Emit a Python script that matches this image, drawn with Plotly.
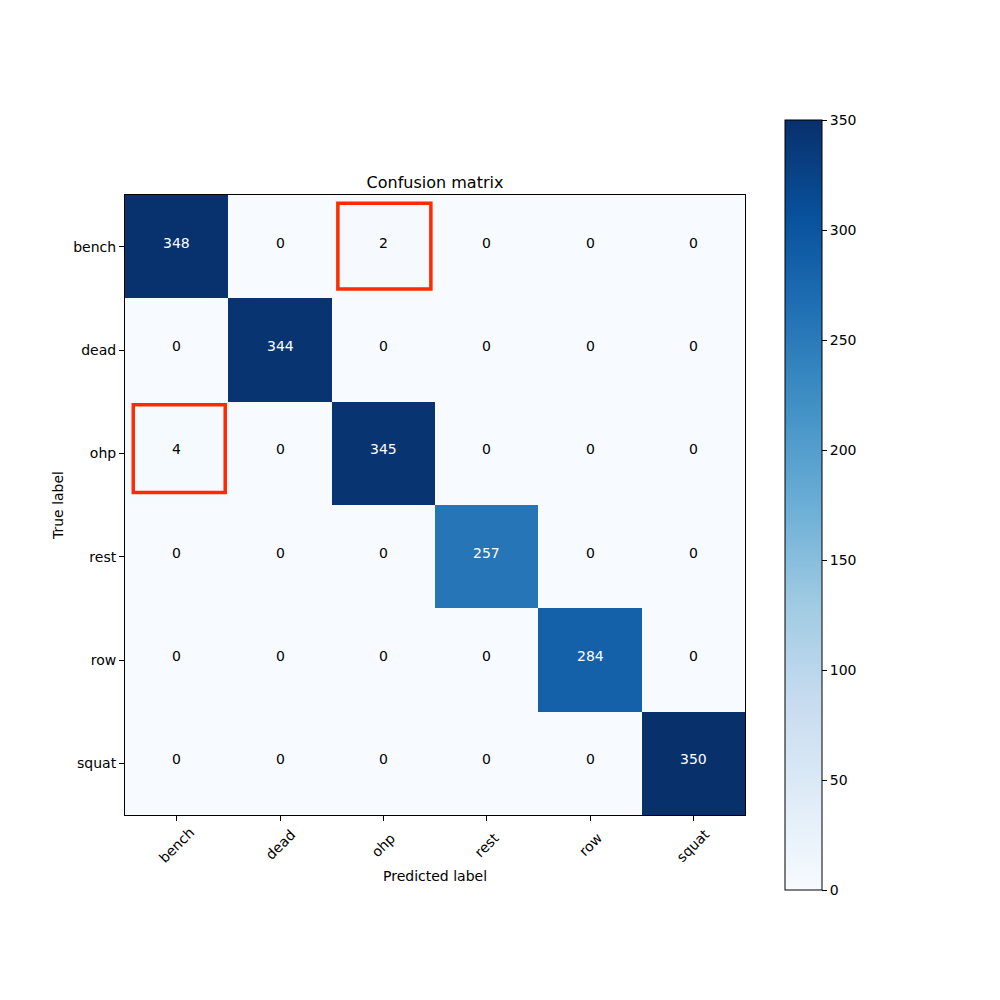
import plotly.graph_objects as go

classes = ["bench", "dead", "ohp", "rest", "row", "squat"]
cm = [
    [348, 0, 2, 0, 0, 0],
    [0, 344, 0, 0, 0, 0],
    [4, 0, 345, 0, 0, 0],
    [0, 0, 0, 257, 0, 0],
    [0, 0, 0, 0, 284, 0],
    [0, 0, 0, 0, 0, 350],
]
cb_ticks = [0, 50, 100, 150, 200, 250, 300, 350]

blues = ["#f7fbff", "#deebf7", "#c6dbef", "#9ecae1", "#6baed6",
         "#4292c6", "#2171b5", "#08519c", "#08306b"]
colorscale = [[i / (len(blues) - 1), c] for i, c in enumerate(blues)]

FONT = "DejaVu Sans"
n = len(classes)
idx = list(range(n))

fig = go.Figure()
fig.add_trace(go.Heatmap(
    z=cm, x=idx, y=idx, colorscale=colorscale, zmin=0, zmax=350,
    showscale=True,
    colorbar=dict(
        x=0.785, xanchor="left", xref="paper",
        y=0.11, yanchor="bottom", yref="paper",
        len=0.77, lenmode="fraction", thickness=37, thicknessmode="pixels",
        outlinewidth=1, outlinecolor="black",
        tickvals=cb_ticks, ticks="outside", ticklen=5, tickwidth=1,
        tickcolor="black", tickfont=dict(family=FONT, size=14, color="black"),
        xpad=0, ypad=0,
    ),
    hoverinfo="skip",
))

thresh = 350 / 2
for i in range(n):
    for j in range(n):
        v = cm[i][j]
        fig.add_annotation(
            x=j, y=i, text=str(v), showarrow=False, xref="x", yref="y", yshift=4,
            font=dict(family=FONT, size=14, color="white" if v > thresh else "black"),
        )

# x tick labels, centred on ticks and rotated 45 degrees
for j, name in enumerate(classes):
    fig.add_annotation(
        x=j, y=0.155, xref="x", yref="paper", text=name, showarrow=False,
        textangle=-45, xanchor="center", yanchor="middle",
        font=dict(family=FONT, size=14, color="black"),
    )

fig.add_annotation(
    x=0.435, y=0.124, xref="paper", yref="paper", text="Predicted label",
    showarrow=False, xanchor="center", yanchor="middle",
    font=dict(family=FONT, size=14, color="black"),
)

# highlight boxes (misclassified cells)
boxes = [(1.56, 2.46, -0.42, 0.41), (-0.42, 0.47, 1.53, 2.38)]
for x0, x1, y0, y1 in boxes:
    fig.add_shape(type="rect", x0=x0, x1=x1, y0=y0, y1=y1, xref="x", yref="y",
                  line=dict(color="#ff2a00", width=3.5))

fig.update_layout(
    width=1000, height=1000,
    margin=dict(l=0, r=0, t=0, b=0),
    paper_bgcolor="white", plot_bgcolor="white",
    font=dict(family=FONT, size=14, color="black"),
    title=dict(text="Confusion matrix", x=0.435, xanchor="center",
               y=1 - 182 / 1000, yanchor="middle",
               font=dict(family=FONT, size=16, color="black")),
    xaxis=dict(
        domain=[0.125, 0.745], range=[-0.5, n - 0.5],
        tickvals=idx, showticklabels=False,
        ticks="outside", ticklen=5, tickcolor="black",
        showline=True, linecolor="black", linewidth=1, mirror=True,
        showgrid=False, zeroline=False,
    ),
    yaxis=dict(
        domain=[0.185, 0.805], range=[n - 0.5, -0.5],
        tickvals=idx, ticktext=classes,
        ticks="outside", ticklen=5, tickcolor="black",
        showline=True, linecolor="black", linewidth=1, mirror=True,
        showgrid=False, zeroline=False,
        title=dict(text="True label", font=dict(family=FONT, size=14), standoff=6),
        tickfont=dict(family=FONT, size=14),
    ),
)

fig.write_html("out.html")
